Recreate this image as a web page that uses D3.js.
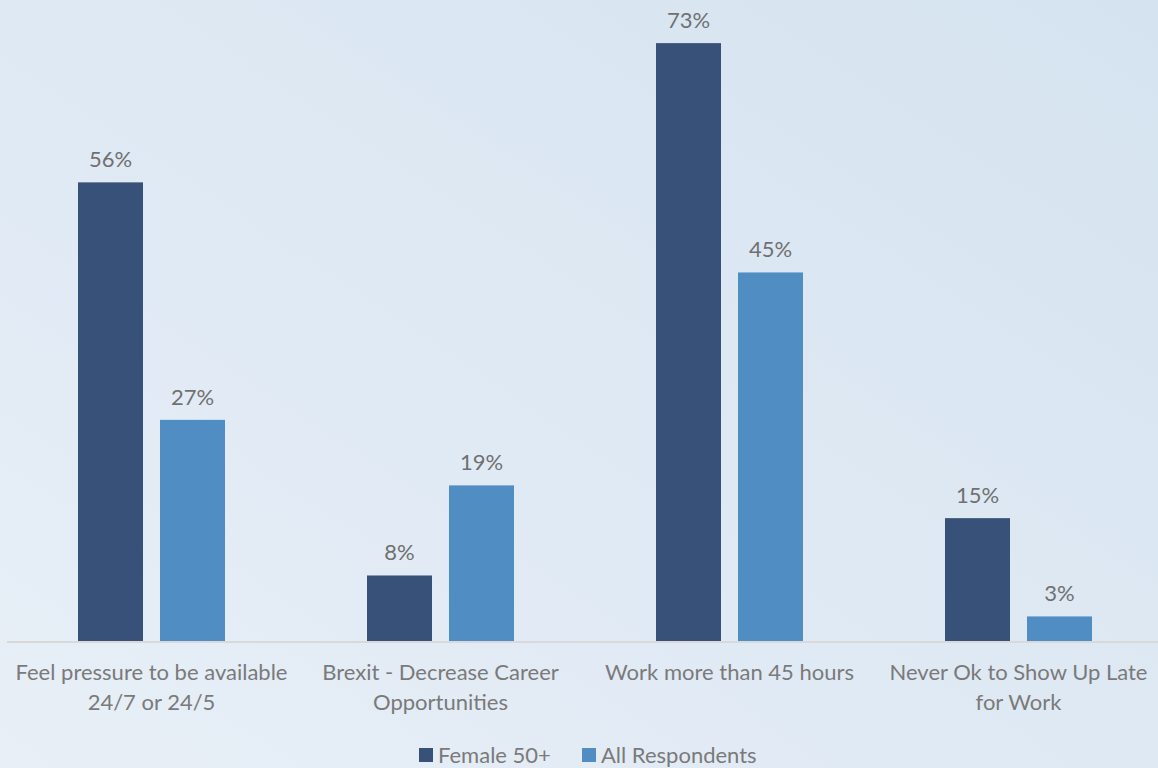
<!DOCTYPE html>
<html><head><meta charset="utf-8">
<script src="https://cdn.jsdelivr.net/npm/d3@7"></script>
<style>html,body{margin:0;padding:0;overflow:hidden}svg{display:block}</style>
</head><body>
<script>
const categories = [["Feel pressure to be available","24/7 or 24/5"],["Brexit - Decrease Career","Opportunities"],["Work more than 45 hours"],["Never Ok to Show Up Late","for Work"]];
const seriesNames = ["Female 50+","All Respondents"];
const female50 = [0.56,0.08,0.73,0.15];
const allResp = [0.27,0.19,0.45,0.03];
const colors = ["#375179","#4f8dc3"];

const W=1158,H=768;
const svg=d3.select("body").append("svg").attr("width",W).attr("height",H);
const defs=svg.append("defs");
const g=defs.append("linearGradient").attr("id","bg").attr("x1","0").attr("y1","1").attr("x2","1").attr("y2","0");
g.append("stop").attr("offset","0").attr("stop-color","#e8eff7");
g.append("stop").attr("offset","1").attr("stop-color","#d5e3f0");
svg.append("rect").attr("width",W).attr("height",H).attr("fill","url(#bg)");

const font="Lato, 'Open Sans', sans-serif";
const fs=22;
const x0=d3.scaleBand().domain(d3.range(categories.length)).range([7,1163]).paddingInner(0).paddingOuter(0);
const x1=d3.scaleBand().domain([0,1]).range([71,218]).paddingInner(17/82).paddingOuter(0);
const y=d3.scaleLinear().domain([0,0.8]).range([641,641-8.19*80]);

const data=[female50,allResp];
data.forEach((vals,si)=>{
  const grp=svg.append("g");
  grp.selectAll("rect").data(vals).join("rect")
    .attr("x",(d,i)=>x0(i)+x1(si)).attr("width",x1.bandwidth())
    .attr("y",d=>y(d)).attr("height",d=>y(0)-y(d))
    .attr("fill",colors[si]);
  grp.selectAll("text").data(vals).join("text")
    .attr("x",(d,i)=>x0(i)+x1(si)+x1.bandwidth()/2).attr("y",d=>y(d)-15)
    .attr("text-anchor","middle").attr("font-family",font).attr("font-size",fs).attr("fill","#707070")
    .text(d=>d3.format(".0%")(d));
});

svg.append("line").attr("x1",7).attr("x2",1163).attr("y1",y(0)+1).attr("y2",y(0)+1).attr("stroke","#d9d9d9").attr("stroke-width",2);

categories.forEach((lines,i)=>{
  const t=svg.append("text").attr("x",x0(i)+x0.bandwidth()/2).attr("y",680)
    .attr("text-anchor","middle").attr("font-family",font).attr("font-size",fs).attr("fill","#7a7a7a");
  lines.forEach((l,j)=>t.append("tspan").attr("x",x0(i)+x0.bandwidth()/2).attr("dy",j?30:0).text(l));
});

const leg=svg.append("g");
const legX=[419,582];
seriesNames.forEach((n,i)=>{
  leg.append("rect").attr("x",legX[i]).attr("y",748).attr("width",14).attr("height",14).attr("fill",colors[i]);
  leg.append("text").attr("x",legX[i]+19).attr("y",763).attr("font-family",font).attr("font-size",fs).attr("fill","#7a7a7a").text(n);
});
</script>
</body></html>
